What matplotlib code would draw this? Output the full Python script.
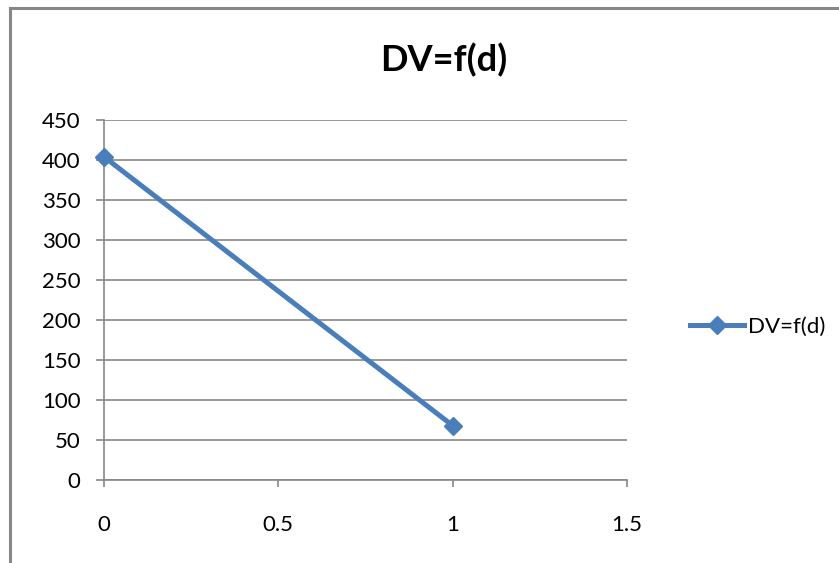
import matplotlib.pyplot as plt
from matplotlib.lines import Line2D

plt.rcParams['font.family'] = ['Lato', 'DejaVu Sans']

d_values = [0, 1]
dv_values = [404, 68]
series_name = "DV=f(d)"
x_ticks = [0, 0.5, 1, 1.5]
x_tick_labels = ["0", "0.5", "1", "1.5"]
y_ticks = [0, 50, 100, 150, 200, 250, 300, 350, 400, 450]

W, H = 839, 563
grid_gray = "#878787"
blue = "#4A7EBB"

fig = plt.figure(figsize=(W / 100, H / 100), dpi=100)
ax = fig.add_axes([104 / W, 1 - 480 / H, (627 - 104) / W, (480 - 120) / H])

ax.plot(d_values, dv_values, color=blue, lw=3.6, marker="D", markersize=9.5,
        label=series_name, clip_on=False, zorder=5)

ax.set_xlim(0, 1.5)
ax.set_ylim(0, 450)
ax.set_xticks(x_ticks)
ax.set_xticklabels(x_tick_labels)
ax.set_yticks(y_ticks)
ax.yaxis.grid(True, color=grid_gray, lw=1.2)
ax.set_axisbelow(True)

for side in ["top", "right"]:
    ax.spines[side].set_visible(False)
for side in ["left", "bottom"]:
    ax.spines[side].set_color(grid_gray)
    ax.spines[side].set_linewidth(1.2)

ax.tick_params(axis="x", direction="out", length=5, width=1.2, color=grid_gray,
               pad=20, labelsize=16)
ax.tick_params(axis="y", direction="out", length=6, width=1.2, color=grid_gray,
               pad=11, labelsize=16)

fig.text(444 / W, 1 - 60 / H, "DV=f(d)", ha="center", va="center",
         fontsize=26, fontweight="bold")

ax.legend(loc="center left", bbox_to_anchor=(681 / W, 1 - 327 / H),
          bbox_transform=fig.transFigure, frameon=False, fontsize=16,
          handlelength=2.45, handletextpad=0.15, borderaxespad=0)

# chart area border (only top and left show)
fig.add_artist(Line2D([9.5 / W, 9.5 / W], [0, 1 - 8 / H], color=grid_gray, lw=2.2))
fig.add_artist(Line2D([9.5 / W, 1], [1 - 8 / H, 1 - 8 / H], color=grid_gray, lw=2.2))

fig.savefig("out.png", dpi=100)
